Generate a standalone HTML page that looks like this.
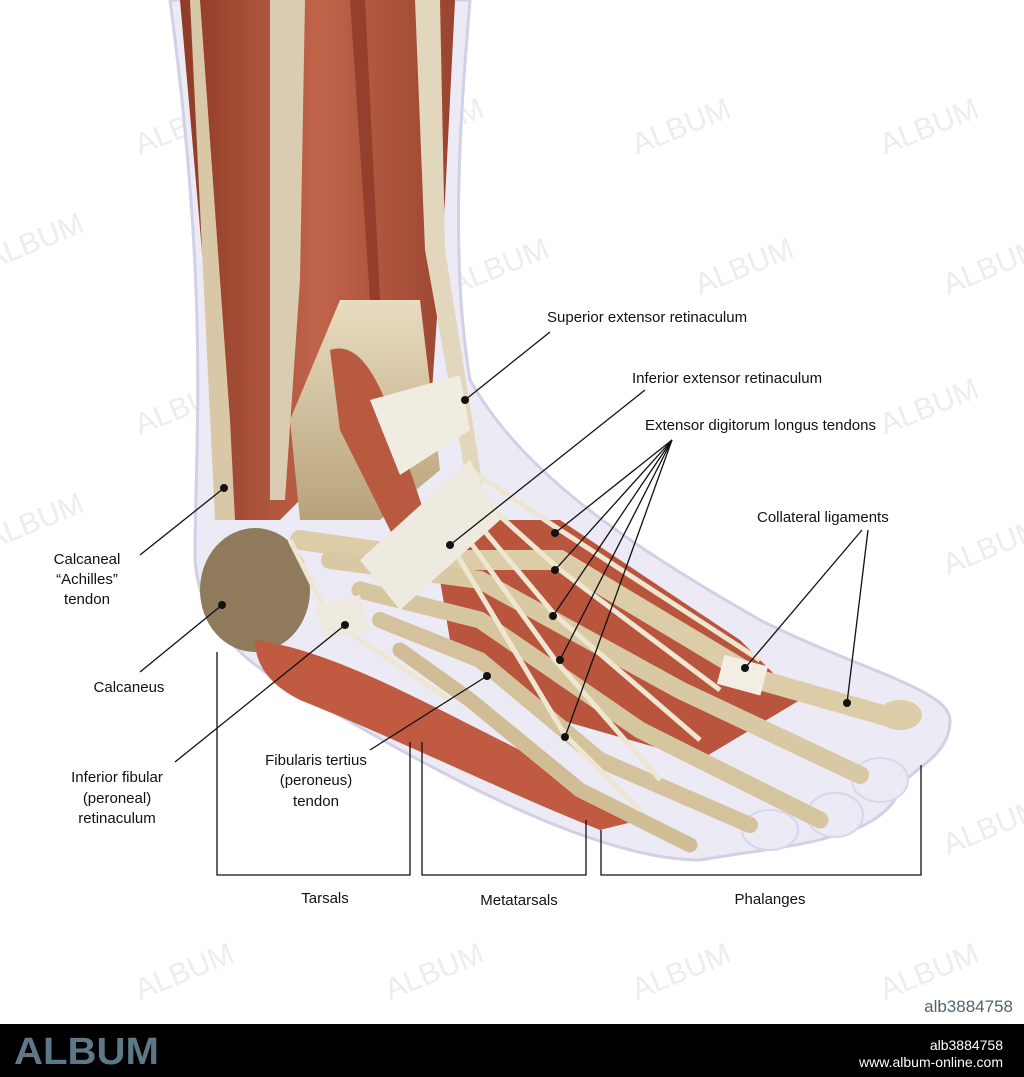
<!DOCTYPE html>
<html><head><meta charset="utf-8"><style>
html,body{margin:0;padding:0;background:#fff;}
body{width:1024px;height:1077px;position:relative;overflow:hidden;font-family:"Liberation Sans",sans-serif;}
svg{position:absolute;left:0;top:0;}
</style></head><body>
<svg width="1024" height="1077" viewBox="0 0 1024 1077" xmlns="http://www.w3.org/2000/svg" font-family="Liberation Sans, sans-serif">
<defs>
<linearGradient id="mus" x1="0" y1="0" x2="1" y2="0"><stop offset="0" stop-color="#8e3a26"/><stop offset="0.5" stop-color="#c0644a"/><stop offset="1" stop-color="#9a4430"/></linearGradient>
<linearGradient id="bone" x1="0" y1="0" x2="0" y2="1"><stop offset="0" stop-color="#e8dcc0"/><stop offset="1" stop-color="#b8a27a"/></linearGradient>
</defs>
<!-- watermarks -->
<g font-size="30" fill="#ededed">
<text transform="translate(140,155) rotate(-22)">ALBUM</text>
<text transform="translate(390,155) rotate(-22)">ALBUM</text>
<text transform="translate(637,155) rotate(-22)">ALBUM</text>
<text transform="translate(885,155) rotate(-22)">ALBUM</text>
<text transform="translate(-10,270) rotate(-22)">ALBUM</text>
<text transform="translate(455,295) rotate(-22)">ALBUM</text>
<text transform="translate(700,295) rotate(-22)">ALBUM</text>
<text transform="translate(948,295) rotate(-22)">ALBUM</text>
<text transform="translate(140,435) rotate(-22)">ALBUM</text>
<text transform="translate(885,435) rotate(-22)">ALBUM</text>
<text transform="translate(-10,550) rotate(-22)">ALBUM</text>
<text transform="translate(948,575) rotate(-22)">ALBUM</text>
<text transform="translate(948,855) rotate(-22)">ALBUM</text>
<text transform="translate(390,1000) rotate(-22)">ALBUM</text>
<text transform="translate(637,1000) rotate(-22)">ALBUM</text>
<text transform="translate(885,1000) rotate(-22)">ALBUM</text>
<text transform="translate(140,1000) rotate(-22)">ALBUM</text>
</g>
<!-- skin outline -->
<path d="M170,0 L470,0 C460,120 450,260 470,380 C520,470 620,540 760,620 C860,670 950,690 950,720 C950,760 905,770 900,790 C890,815 860,830 835,835 C810,845 760,850 700,860 C600,860 450,780 330,710 C250,670 200,630 195,560 C195,440 210,300 170,0 Z" fill="#eceaf4" stroke="#d2d0e6" stroke-width="3"/>
<g fill="#eceaf4" stroke="#d8d6ea" stroke-width="2">
<ellipse cx="880" cy="780" rx="28" ry="22"/>
<ellipse cx="835" cy="815" rx="28" ry="22"/>
<ellipse cx="770" cy="830" rx="28" ry="20"/>
</g>
<!-- leg muscles -->
<path d="M180,0 L455,0 L445,200 L430,420 L400,470 L330,470 L280,520 L230,520 L215,400 Z" fill="url(#mus)"/>
<path d="M270,0 L305,0 L300,280 L285,500 L270,500 Z" fill="#d9ccb0"/>
<path d="M415,0 L440,0 L445,250 L485,500 L470,500 L425,250 Z" fill="#e2d6bc"/>
<path d="M190,0 L200,0 L230,420 L235,520 L215,520 Z" fill="#d8c8a8"/>
<path d="M350,0 L365,0 L380,300 L370,300 Z" fill="#7e2f1e" opacity="0.6"/>
<!-- tibia/ankle bone -->
<path d="M340,300 L420,300 L440,470 L380,520 L300,520 L290,420 Z" fill="url(#bone)"/>
<path d="M330,350 C360,340 380,380 400,440 L440,560 L410,570 L340,430 Z" fill="#b85a40"/>
<!-- heel -->
<ellipse cx="255" cy="590" rx="55" ry="62" fill="#8f7a5c"/>
<!-- sole muscle -->
<path d="M255,640 C330,650 420,700 500,740 C560,770 610,800 640,820 L600,830 C500,790 400,740 300,700 C270,685 255,665 255,640 Z" fill="#c05a40"/>
<!-- foot dorsum muscles -->
<path d="M430,520 L560,520 L740,640 L800,700 L700,760 L560,720 L450,640 Z" fill="#b9553c"/>
<!-- metatarsal bones -->
<g stroke-linecap="round" fill="none">
<path d="M300,540 L440,560 L560,560 L760,680 L900,720" stroke="#dccca8" stroke-width="20"/>
<path d="M330,560 L480,580 L680,690 L860,775" stroke="#d8c8a4" stroke-width="18"/>
<path d="M360,590 L480,620 L640,730 L820,820" stroke="#d6c6a0" stroke-width="17"/>
<path d="M380,620 L480,660 L600,760 L750,825" stroke="#d4c29c" stroke-width="16"/>
<path d="M400,650 L470,700 L580,790 L690,845" stroke="#d0bd96" stroke-width="15"/>
</g>
<!-- tendons -->
<g stroke="#efe6d2" stroke-width="5" fill="none">
<path d="M470,470 L560,530 L760,660"/>
<path d="M460,480 L560,570 L720,690"/>
<path d="M450,490 L555,615 L700,740"/>
<path d="M440,500 L555,660 L660,780"/>
<path d="M430,510 L565,735 L640,810"/>
<path d="M290,540 L330,620 L450,700"/>
</g>
<!-- retinacula -->
<path d="M370,400 L460,375 L470,430 L400,475 Z" fill="#f0ece2"/>
<path d="M360,560 L470,460 L500,520 L400,610 Z" fill="#efeadf"/>
<path d="M315,605 L360,595 L370,630 L325,640 Z" fill="#efeadf"/>
<rect x="720" y="660" width="45" height="30" fill="#f2eee4" transform="rotate(15 742 675)"/>
<ellipse cx="900" cy="715" rx="22" ry="15" fill="#dccca8"/>
<!-- leader lines -->
<g stroke="#111" stroke-width="1.3" fill="none">
<line x1="550" y1="332" x2="465" y2="400"/>
<line x1="645" y1="390" x2="450" y2="545"/>
<line x1="672" y1="440" x2="555" y2="533"/>
<line x1="672" y1="440" x2="555" y2="570"/>
<line x1="672" y1="440" x2="553" y2="616"/>
<line x1="672" y1="440" x2="560" y2="660"/>
<line x1="672" y1="440" x2="565" y2="737"/>
<line x1="862" y1="530" x2="745" y2="668"/>
<line x1="868" y1="530" x2="847" y2="703"/>
<line x1="140" y1="555" x2="224" y2="488"/>
<line x1="140" y1="672" x2="222" y2="605"/>
<line x1="175" y1="762" x2="345" y2="625"/>
<line x1="370" y1="750" x2="487" y2="676"/>
<polyline points="217,652 217,875 410,875 410,742"/>
<polyline points="422,742 422,875 586,875 586,820"/>
<polyline points="601,830 601,875 921,875 921,765"/>
</g>
<g fill="#111">
<circle cx="465" cy="400" r="4"/><circle cx="450" cy="545" r="4"/>
<circle cx="555" cy="533" r="4"/><circle cx="555" cy="570" r="4"/><circle cx="553" cy="616" r="4"/><circle cx="560" cy="660" r="4"/><circle cx="565" cy="737" r="4"/>
<circle cx="745" cy="668" r="4"/><circle cx="847" cy="703" r="4"/>
<circle cx="224" cy="488" r="4"/><circle cx="222" cy="605" r="4"/><circle cx="345" cy="625" r="4"/><circle cx="487" cy="676" r="4"/>
</g>
<g font-size="15" fill="#111">
<text x="547" y="322">Superior extensor retinaculum</text>
<text x="632" y="383">Inferior extensor retinaculum</text>
<text x="645" y="430">Extensor digitorum longus tendons</text>
<text x="757" y="522">Collateral ligaments</text>
<g text-anchor="middle">
<text x="87" y="564">Calcaneal</text><text x="87" y="584">“Achilles”</text><text x="87" y="604">tendon</text>
<text x="129" y="692">Calcaneus</text>
<text x="117" y="782">Inferior fibular</text><text x="117" y="803">(peroneal)</text><text x="117" y="823">retinaculum</text>
<text x="316" y="765">Fibularis tertius</text><text x="316" y="785">(peroneus)</text><text x="316" y="806">tendon</text>
<text x="325" y="903">Tarsals</text><text x="519" y="905">Metatarsals</text><text x="770" y="904">Phalanges</text>
</g>
</g>
<text x="1013" y="1012" font-size="17" fill="#4f6470" text-anchor="end">alb3884758</text>
<rect x="0" y="1024" width="1024" height="53" fill="#000"/>
<text x="14" y="1064" font-size="38" font-weight="bold" fill="#5d7888" textLength="145" lengthAdjust="spacingAndGlyphs">ALBUM</text>
<text x="1003" y="1050" font-size="14" fill="#fff" text-anchor="end">alb3884758</text>
<text x="1003" y="1067" font-size="14" fill="#fff" text-anchor="end">www.album-online.com</text>
</svg>
</body></html>
